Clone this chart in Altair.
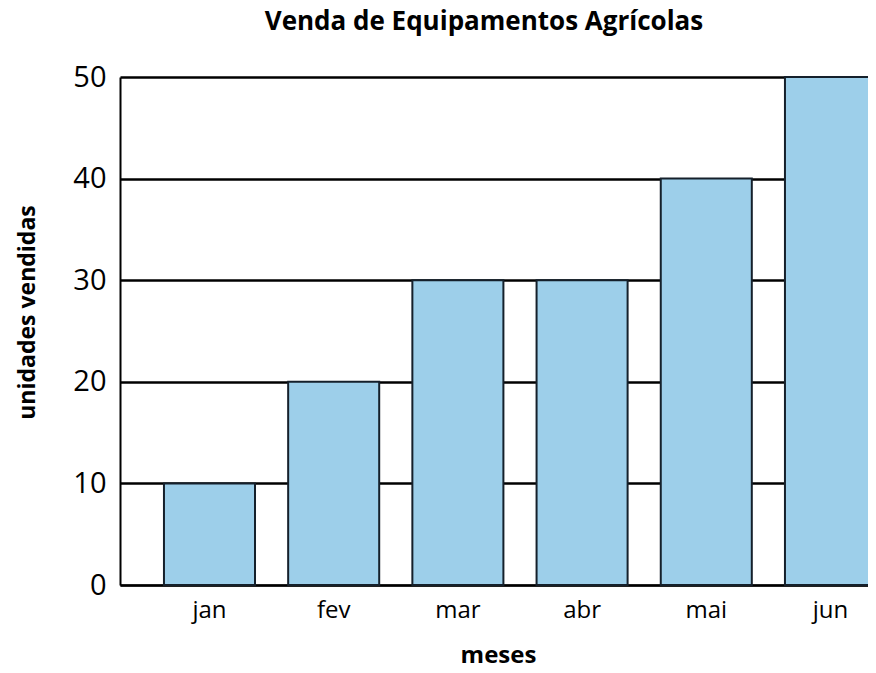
import altair as alt
import pandas as pd

months = ["jan", "fev", "mar", "abr", "mai", "jun"]
units = [10, 20, 30, 30, 40, 50]
y_ticks = [0, 10, 20, 30, 40, 50]

df = pd.DataFrame({"mes": months, "unidades": units})

FONT = "Open Sans"

chart = alt.Chart(df).mark_bar(
    color="#9dcfea", stroke="#15202b", strokeWidth=2
).encode(
    x=alt.X("mes:N", sort=months,
            scale=alt.Scale(paddingInner=0.267, paddingOuter=0.177, align=1,
                            range=[0, 756]),
            axis=alt.Axis(title="meses", labelAngle=0, ticks=False, grid=False,
                          domainColor="black", domainWidth=2,
                          labelFontSize=24, labelColor="black", labelFont=FONT,
                          labelBaseline="alphabetic", labelPadding=32,
                          titleFontSize=24, titleFont=FONT,
                          titleFontWeight="bold", titleColor="black",
                          titleBaseline="alphabetic", titleY=77)),
    y=alt.Y("unidades:Q", scale=alt.Scale(domain=[0, 50], nice=False),
            axis=alt.Axis(title="unidades vendidas", values=y_ticks, ticks=False,
                          grid=True, gridColor="black", gridWidth=2.5, gridOpacity=1,
                          domainColor="black", domainWidth=2,
                          labelFontSize=29, labelColor="black", labelFont=FONT,
                          labelPadding=14, titleFontSize=23, titleFont=FONT,
                          titleFontWeight="bold", titleColor="black",
                          titleBaseline="alphabetic",
                          titleX=-86, titleY=235))
).properties(
    width=748, height=508,
    autosize=alt.AutoSizeParams(type="none"),
    padding={"left": 112, "top": 69, "right": 0, "bottom": 80},
    title=alt.TitleParams("Venda de Equipamentos Agrícolas", font=FONT,
                          fontSize=26, fontWeight="bold", color="black",
                          anchor="middle", dx=-10, offset=28, frame="group")
).configure_view(stroke=None)

chart.save("out.html", embed_options={"renderer": "svg", "actions": False})
